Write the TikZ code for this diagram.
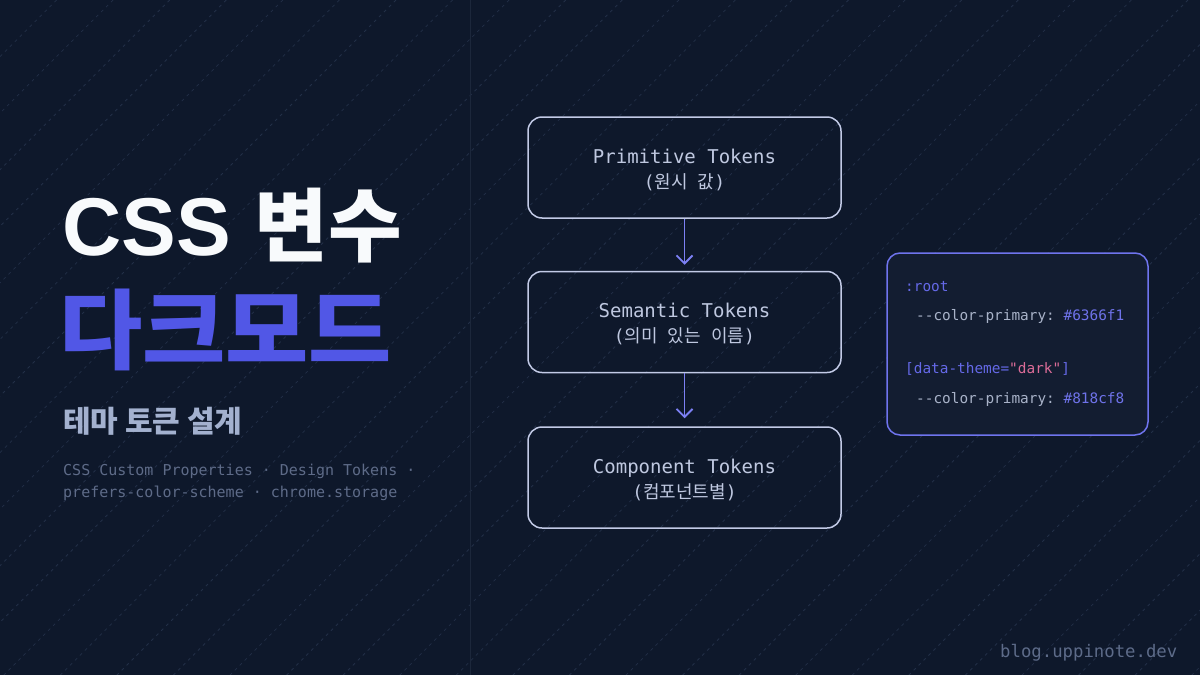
\documentclass[tikz,border=0pt]{standalone}
\usepackage{fontspec}
\usetikzlibrary{arrows.meta}
\setmonofont{DejaVu Sans Mono}
\newfontfamily\krf{Noto Sans CJK KR}
\newfontfamily\krw{Noto Sans CJK KR}[FakeStretch=1.04]
\newfontfamily\latf{Liberation Sans}
\newcommand{\ksp}{\hspace{10pt}}
\definecolor{bg}{HTML}{0E182B}
\definecolor{diag}{HTML}{222F47}
\definecolor{divider}{HTML}{1C273B}
\definecolor{titlew}{HTML}{F8FAFC}
\definecolor{indigo}{HTML}{5157E6}
\definecolor{subc}{HTML}{A3B1CF}
\definecolor{monosub}{HTML}{5E6B88}
\definecolor{boxline}{HTML}{C2CAE6}
\definecolor{boxtext}{HTML}{BFC8E0}
\definecolor{arrowc}{HTML}{7C80F4}
\definecolor{codeline}{HTML}{6F74EE}
\definecolor{codefill}{HTML}{131D31}
\definecolor{rootc}{HTML}{6569E8}
\definecolor{codegray}{HTML}{A9B3C9}
\definecolor{codehex}{HTML}{6F73EA}
\definecolor{pinkc}{HTML}{DC6C98}
\definecolor{blogc}{HTML}{5D6B89}
\begin{document}
\begin{tikzpicture}[x=1pt,y=-1pt,
  diagline/.style={draw=diag, line width=0.8pt, dash pattern=on 3pt off 4pt},
  tokbox/.style={draw=boxline, line width=1.5pt, rounded corners=14pt, minimum width=313pt, minimum height=101pt, inner sep=0pt},
  tokt/.style={anchor=base, text=boxtext, font=\ttfamily\fontsize{19}{22}\selectfont, inner sep=0pt},
  tokk/.style={anchor=base, text=boxtext, font=\fontsize{18}{22}\selectfont, inner sep=0pt},
  flow/.style={draw=arrowc, line width=1.9pt, -{Straight Barb[length=8pt,width=16pt,line width=1.9pt]}},
  codebox/.style={draw=codeline, fill=codefill, line width=1.5pt, rounded corners=13pt, minimum width=261pt, minimum height=182pt, inner sep=0pt},
  code/.style={anchor=base west, inner sep=0pt, font=\ttfamily\fontsize{14.4}{17}\selectfont},
  msub/.style={anchor=base west, inner sep=0pt, text=monosub, font=\ttfamily\fontsize{15}{18}\selectfont}
]
\fill[bg] (0,0) rectangle (1200,675);
\useasboundingbox (0,0) rectangle (1200,675);
\begin{scope}
  \clip (0,0) rectangle (1200,675);
  \foreach \k in {1,...,34}{
    \draw[diagline] ({\k*56.57},0) -- ({\k*56.57-700},700);
  }
\end{scope}
\draw[divider, line width=1pt] (470,0) -- (470,675);

% left title block
\node[anchor=base west, inner sep=0pt, text=titlew] (t1) at (62,255)
  {{\latf\bfseries\fontsize{82}{90}\selectfont CSS}\hspace{24pt}{\krf\bfseries\fontsize{80}{90}\selectfont 변수}};
\node[anchor=base west, inner sep=0pt, text=indigo] (t2) at (59,362)
  {\krw\bfseries\fontsize{87}{96}\selectfont 다크모드};
\node[anchor=base west, inner sep=0pt, text=subc] (t3) at (63,432)
  {\krf\bfseries\fontsize{30}{36}\selectfont 테마 토큰 설계};
\node[msub] (m1) at (63,475) {CSS Custom Properties · Design Tokens ·};
\node[msub] (m2) at (63,497) {prefers-color-scheme · chrome.storage};

% token flow
\node[tokbox] (b1) at (684.5,167.5) {};
\node[tokbox] (b2) at (684.5,322) {};
\node[tokbox] (b3) at (684.5,477.5) {};
\node[tokt] (b1a) at (684.5,163) {Primitive Tokens};
\node[tokk] (b1b) at (684.5,188) {{\ttfamily(}{\krf 원시\ksp 값}{\ttfamily)}};
\node[tokt] (b2a) at (684.5,317) {Semantic Tokens};
\node[tokk] (b2b) at (684.5,342) {{\ttfamily(}{\krf 의미\ksp 있는\ksp 이름}{\ttfamily)}};
\node[tokt] (b3a) at (684.5,473) {Component Tokens};
\node[tokk] (b3b) at (684.5,498) {{\ttfamily(}{\krf 컴포넌트별}{\ttfamily)}};
\draw[flow, shorten >=6pt] (b1.south) -- (b2.north);
\draw[flow, shorten >=8pt] (b2.south) -- (b3.north);

% code box
\node[codebox] (cb) at (1017.5,344) {};
\node[code, text=rootc] (c1) at (905,291) {:root};
\node[code] (c2) at (916,320) {\textcolor{codegray}{--color-primary:} \textcolor{codehex}{\#6366f1}};
\node[code] (c3) at (905,373) {\textcolor{rootc}{[data-theme=}\textcolor{pinkc}{"dark"}\textcolor{rootc}{]}};
\node[code] (c4) at (916,403) {\textcolor{codegray}{--color-primary:} \textcolor{codehex}{\#818cf8}};

\node[anchor=base west, inner sep=0pt, text=blogc, font=\ttfamily\fontsize{17.3}{20}\selectfont] (blog) at (1000,657) {blog.uppinote.dev};
\end{tikzpicture}
\end{document}
